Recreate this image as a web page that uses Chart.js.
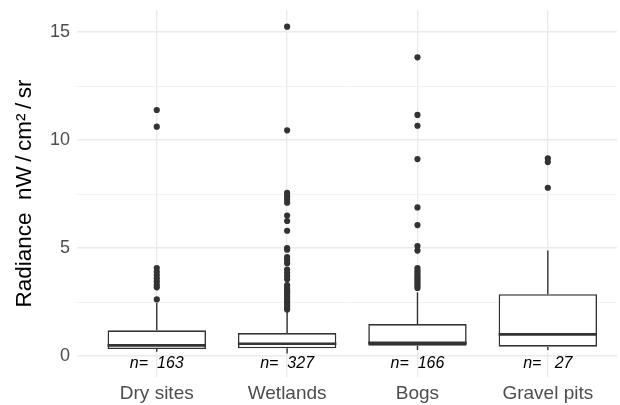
<!DOCTYPE html>
<html>
<head>
<meta charset="utf-8">
<script src="https://cdn.jsdelivr.net/npm/chart.js@4/dist/chart.umd.min.js"></script>
<style>
  html, body { margin: 0; padding: 0; background: #ffffff; }
  #wrap { width: 620px; height: 405px; }
</style>
</head>
<body>
<div id="wrap"><canvas id="c" width="620" height="405"></canvas></div>
<script>
// ---- data ----
const categories = ['Dry sites', 'Wetlands', 'Bogs', 'Gravel pits'];
const counts = [163, 327, 166, 27];
const whiskerLow = [0.2, 0.12, 0.28, 0.28];
const q1 = [0.32, 0.36, 0.48, 0.43];
const median = [0.49, 0.57, 0.61, 1.0];
const q3 = [1.19, 1.06, 1.48, 2.86];
const whiskerHigh = [2.45, 2.05, 2.95, 4.88];
const outliersDry = [11.39, 10.62, 4.07, 3.9, 3.75, 3.6, 3.45, 3.3, 3.18, 2.62];
const outliersWetlands = [15.25, 10.45, 7.55, 7.4, 7.25, 7.1, 6.5, 6.25, 5.8, 5.0, 4.92,
  4.58, 4.45, 4.3, 4.0, 3.85, 3.7, 3.55, 3.28, 3.15, 3.05, 2.95, 2.85, 2.75, 2.65,
  2.55, 2.45, 2.35, 2.25, 2.15];
const outliersBogs = [13.83, 11.16, 10.66, 9.12, 6.88, 6.06, 5.09, 4.88, 4.07, 3.95,
  3.85, 3.75, 3.65, 3.55, 3.45, 3.35, 3.25, 3.15];
const outliersGravel = [9.15, 8.98, 7.79];
const outliers = [outliersDry, outliersWetlands, outliersBogs, outliersGravel];
const yMajorTicks = [0, 5, 10, 15];
const yMinorTicks = [2.5, 7.5, 12.5];
const yTitle = 'Radiance  nW\u2009/\u2009cm\u00B2\u2009/\u2009sr';

// ---- build datasets ----
const boxData = categories.map((c, i) => ({ x: i + 1, y: [q1[i], q3[i]] }));
const outlierData = [];
outliers.forEach((arr, i) => arr.forEach(v => outlierData.push({ x: i + 1, y: v })));

const FONT = "'Liberation Sans', Arial, sans-serif";
const DARK = '#333333';

const boxPlugin = {
  id: 'boxParts',
  beforeDatasetsDraw(chart) {
    const { ctx, scales: { x, y } } = chart;
    ctx.save();
    ctx.strokeStyle = DARK;
    ctx.lineWidth = 1.4;
    categories.forEach((c, i) => {
      const px = x.getPixelForValue(i + 1);
      ctx.beginPath();
      ctx.moveTo(px, y.getPixelForValue(q3[i]));
      ctx.lineTo(px, y.getPixelForValue(whiskerHigh[i]));
      ctx.moveTo(px, y.getPixelForValue(q1[i]));
      ctx.lineTo(px, y.getPixelForValue(whiskerLow[i]));
      ctx.stroke();
    });
    ctx.restore();
  },
  afterDatasetDraw(chart, args) {
    if (args.meta.type !== 'bar') return;
    const { ctx, scales: { y } } = chart;
    ctx.save();
    ctx.strokeStyle = DARK;
    ctx.lineWidth = 2.6;
    args.meta.data.forEach((bar, i) => {
      const half = bar.width / 2;
      const py = y.getPixelForValue(median[i]);
      ctx.beginPath();
      ctx.moveTo(bar.x - half, py);
      ctx.lineTo(bar.x + half, py);
      ctx.stroke();
    });
    ctx.restore();
  },
  afterDatasetsDraw(chart) {
    const { ctx, scales: { x, y } } = chart;
    ctx.save();
    ctx.fillStyle = '#000000';
    ctx.font = "italic 16px " + FONT;
    ctx.textAlign = 'center';
    ctx.textBaseline = 'middle';
    categories.forEach((c, i) => {
      const label = 'n= ' + String(counts[i]).padStart(4, ' ');
      ctx.fillText(label, x.getPixelForValue(i + 1), y.getPixelForValue(-0.33));
    });
    ctx.restore();
  }
};

new Chart(document.getElementById('c'), {
  data: {
    datasets: [
      {
        type: 'bar',
        data: boxData,
        backgroundColor: '#ffffff',
        borderColor: DARK,
        borderWidth: 1.6,
        borderSkipped: false,
        barPercentage: 0.755,
        categoryPercentage: 1,
        order: 2
      },
      {
        type: 'scatter',
        data: outlierData,
        pointRadius: 3.1,
        pointHoverRadius: 3.1,
        pointBackgroundColor: DARK,
        pointBorderColor: DARK,
        pointBorderWidth: 0,
        order: 1
      }
    ]
  },
  options: {
    responsive: false,
    devicePixelRatio: 1,
    animation: false,
    layout: { padding: { top: 10, left: 0, right: 0, bottom: 0 } },
    plugins: { legend: { display: false }, tooltip: { enabled: false } },
    scales: {
      x: {
        type: 'linear',
        offset: false,
        min: 0.388,
        max: 4.53,
        afterBuildTicks(scale) { scale.ticks = categories.map((c, i) => ({ value: i + 1 })); },
        afterFit(scale) { scale.height = 28; scale.paddingLeft = 0; scale.paddingRight = 0; },
        border: { display: false },
        grid: { color: '#EBEBEB', lineWidth: 1.4, drawTicks: false, offset: false },
        ticks: {
          autoSkip: false,
          maxRotation: 0,
          padding: 5,
          color: '#4D4D4D',
          font: { family: FONT, size: 19 },
          callback: (v) => categories[Math.round(v) - 1] || ''
        }
      },
      y: {
        type: 'linear',
        min: -0.972,
        max: 16.02,
        afterBuildTicks(scale) {
          scale.ticks = yMajorTicks.concat(yMinorTicks).sort((a, b) => a - b).map(v => ({ value: v }));
        },
        afterFit(scale) { scale.width = 77; scale.paddingTop = 0; scale.paddingBottom = 0; },
        border: { display: false },
        grid: {
          drawTicks: false,
          color: (ctx) => (yMajorTicks.includes(ctx.tick.value) ? '#EBEBEB' : '#F2F2F2'),
          lineWidth: (ctx) => (yMajorTicks.includes(ctx.tick.value) ? 1.4 : 1)
        },
        ticks: {
          autoSkip: false,
          padding: 7,
          color: '#4D4D4D',
          font: { family: FONT, size: 18 },
          callback: (v) => (yMajorTicks.includes(v) ? String(v) : '')
        },
        title: {
          display: true,
          text: yTitle,
          color: '#000000',
          font: { family: FONT, size: 22.5 },
          padding: { top: 11, bottom: 0 }
        }
      }
    }
  },
  plugins: [boxPlugin]
});
</script>
</body>
</html>
